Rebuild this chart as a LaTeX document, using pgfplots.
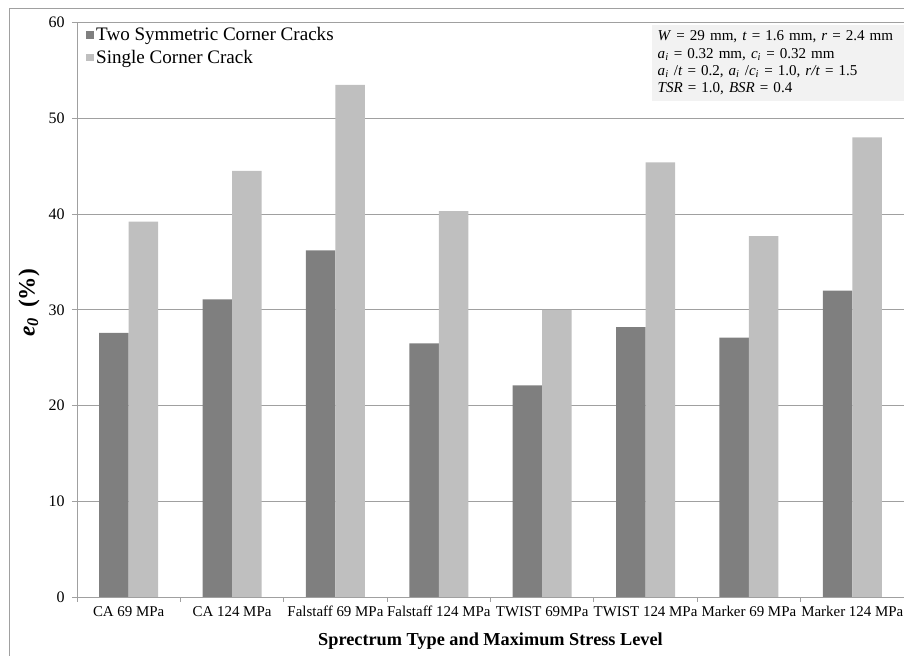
\documentclass[border=0pt]{standalone}
\usepackage{pgfplots}
\pgfplotsset{compat=1.18}
\usepackage{fontspec}
\setmainfont{Liberation Serif}

\definecolor{twocrack}{HTML}{7F7F7F}
\definecolor{onecrack}{HTML}{BFBFBF}
\definecolor{axisgray}{HTML}{A0A0A0}
\definecolor{boxfill}{HTML}{F2F2F2}

\begin{document}
\begin{tikzpicture}
% page frame: plot area runs from (0,0) to (620.25pt,430.8pt)
\useasboundingbox (-57.75pt,-44.25pt) rectangle (620.25pt,447.75pt);
\draw[axisgray, line width=0.6pt] (-51pt,-50pt) -- (-51pt,441.75pt) -- (620pt,441.75pt);
\begin{axis}[
  at={(0,0)}, anchor=south west,
  scale only axis, width=620.25pt, height=430.8pt,
  xmin=-0.5, xmax=7.5, ymin=0, ymax=60,
  ybar=0pt, bar width=22.1pt,
  axis x line*=bottom, axis y line*=left,
  axis line style={axisgray, line width=0.6pt},
  ymajorgrids, grid style={axisgray, line width=0.6pt},
  ytick={0,10,...,60},
  xtick={0,...,7},
  xticklabels={CA 69 MPa, CA 124 MPa, Falstaff 69 MPa, Falstaff 124 MPa,
               TWIST 69MPa, TWIST 124 MPa, Marker 69 MPa, Marker 124 MPa},
  minor xtick={-0.5,0.5,...,7.5},
  tick align=outside,
  major tick length=3.75pt, minor tick length=3.75pt,
  every major x tick/.append style={draw=none},
  every tick/.append style={axisgray, line width=0.6pt},
  /pgf/number format/assume math mode=true,
  yticklabel style={font=\fontsize{12}{14}\selectfont, xshift=-2pt},
  xticklabel style={font=\fontsize{11.2}{12}\selectfont, anchor=base, yshift=-11pt},
  xlabel={\textbf{Sprectrum Type and Maximum Stress Level}},
  xlabel style={font=\fontsize{13.7}{15}\selectfont, at={(axis description cs:0.5,-0.0766)}, anchor=center},
  ylabel={\textbf{\textit{e}\textsubscript{\textit{0}}\, (\%)}},
  ylabel style={font=\fontsize{17.5}{19}\selectfont, at={(axis description cs:-0.058,0.512)}, anchor=center},
  legend cell align=left,
  legend style={at={(axis description cs:0.009,0.999)}, anchor=north west,
                draw=none, fill=none, font=\fontsize{14.3}{16.5}\selectfont,
                row sep=1.5pt, inner sep=1pt},
  legend image code/.code={\fill[#1] (0pt,-2.8pt) rectangle (5.6pt,2.8pt);},
]
\addplot[fill=twocrack, draw=none] coordinates {
  (0,27.6) (1,31.1) (2,36.2) (3,26.5) (4,22.1) (5,28.2) (6,27.1) (7,32.0)};
\addplot[fill=onecrack, draw=none] coordinates {
  (0,39.2) (1,44.5) (2,53.5) (3,40.3) (4,30.0) (5,45.4) (6,37.7) (7,48.0)};
\legend{Two Symmetric Corner Cracks, Single Corner Crack}

\node[fill=boxfill, anchor=north east, align=left, inner xsep=4.5pt, inner ysep=4.5pt,
      text width=180pt, font=\fontsize{11.3}{13.1}\selectfont]
  at (rel axis cs:1,0.997)
  {\textit{W} = 29 mm, \textit{t} = 1.6 mm, \textit{r} = 2.4 mm\\
   \textit{a}\textsubscript{\textit{i}} = 0.32 mm, \textit{c}\textsubscript{\textit{i}} = 0.32 mm\\
   \textit{a}\textsubscript{\textit{i}} /\textit{t} = 0.2, \textit{a}\textsubscript{\textit{i}} /\textit{c}\textsubscript{\textit{i}} = 1.0, \textit{r/t} = 1.5\\
   \textit{TSR} = 1.0, \textit{BSR} = 0.4};
\end{axis}
\end{tikzpicture}
\end{document}
